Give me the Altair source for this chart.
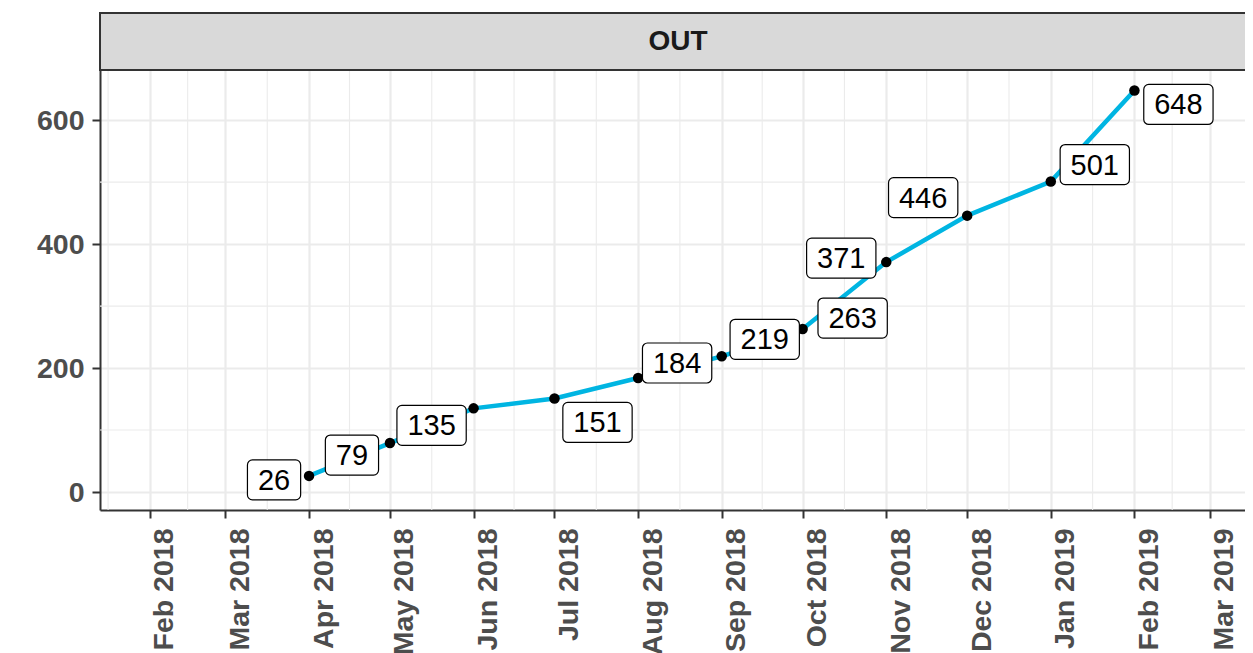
import altair as alt
import pandas as pd

# ---- data ----
dates = ["2018-04-01", "2018-05-01", "2018-06-01", "2018-07-01", "2018-08-01",
         "2018-09-01", "2018-10-01", "2018-11-01", "2018-12-01", "2019-01-01",
         "2019-02-01"]
values = [26, 79, 135, 151, 184, 219, 263, 371, 446, 501, 648]
labels = [str(v) for v in values]
panel_title = "OUT"
y_ticks = [0, 200, 400, 600]
y_minor = [100, 300, 500]

# label placement nudges (pixels), as a repel layout would place them
nudges = [(-35, 4), (-38, 12), (-42, 17), (43, 24), (39, -15), (43, -17),
          (50, -11), (-45, -4), (-44, -18), (44, -17), (44, 14)]

df = pd.DataFrame({"date": dates, "value": values, "label": labels})

# tick months and minor (mid-month) grid positions
tick_months = pd.date_range("2018-02-01", "2019-03-01", freq="MS")
all_months = pd.date_range("2018-01-01", "2019-04-01", freq="MS")
mids = all_months[:-1] + (all_months[1:] - all_months[:-1]) / 2
dom_lo = pd.Timestamp("2018-01-13T12:00")
dom_hi = pd.Timestamp("2019-03-14T00:00")
mids = [m for m in mids if dom_lo <= m <= dom_hi]
minor_x_df = pd.DataFrame({"date": [m.strftime("%Y-%m-%dT%H:%M:%SZ") for m in mids]})
minor_y_df = pd.DataFrame({"value": y_minor})

FONT = "Liberation Sans"
W, H = 1145, 440
GRID = "#EBEBEB"
DARK = "#333333"
AXIS_FS = 28.5
LABEL_FS = 29

xscale = alt.Scale(type="utc",
                   domain=[alt.DateTime(year=2018, month=1, date=13, hours=12, utc=True),
                           alt.DateTime(year=2019, month=3, date=14, utc=True)],
                   nice=False)
yscale = alt.Scale(domain=[-29, 681], nice=False, zero=False)

xaxis = alt.Axis(
    values=[alt.DateTime(year=int(t.year), month=int(t.month), date=1, utc=True) for t in tick_months],
    labelExpr="utcFormat(datum.value, '%b %Y')",
    labelAngle=270, labelAlign="right", labelBaseline="top",
    labelPadding=10, labelFont=FONT, labelFontSize=AXIS_FS, labelFontWeight="bold",
    labelColor="#4D4D4D", labelOverlap=False, labelFlush=False, labelBound=False,
    tickSize=8, tickWidth=2, tickColor=DARK,
    domain=True, domainColor=DARK, domainWidth=2,
    grid=True, gridColor=GRID, gridWidth=2.2, title=None)
yaxis = alt.Axis(
    values=y_ticks, labelPadding=8, labelFont=FONT, labelFontSize=AXIS_FS,
    labelFontWeight="bold", labelColor="#4D4D4D",
    tickSize=8, tickWidth=2, tickColor=DARK,
    domain=True, domainColor=DARK, domainWidth=2,
    grid=True, gridColor=GRID, gridWidth=2.2, title=None)

x_enc = alt.X("date:T", scale=xscale, axis=xaxis)
y_enc = alt.Y("value:Q", scale=yscale, axis=yaxis)

minor_x = alt.Chart(minor_x_df).mark_rule(color=GRID, strokeWidth=1.1).encode(x=x_enc)
minor_y = alt.Chart(minor_y_df).mark_rule(color=GRID, strokeWidth=1.1).encode(y=y_enc)

base = alt.Chart(df)
line = base.mark_line(color="#00B5E2", strokeWidth=4.5).encode(x=x_enc, y=y_enc)
pts = base.mark_circle(color="black", size=110, opacity=1).encode(x=x_enc, y=y_enc)

label_layers = []
for lab, (dx, dy) in zip(labels, nudges):
    w = 16.1 * len(lab) + 21
    h = 40
    box = base.transform_filter(alt.datum.label == lab).mark_rect(
        fill="white", stroke="black", strokeWidth=1.2, cornerRadius=5,
        xOffset=dx - w / 2, x2Offset=dx + w / 2,
        yOffset=dy - h / 2, y2Offset=dy + h / 2,
    ).encode(x=x_enc, x2=alt.X2("date"), y=y_enc, y2=alt.Y2("value"))
    txt = base.transform_filter(alt.datum.label == lab).mark_text(
        font=FONT, fontSize=LABEL_FS, color="black", align="center", baseline="middle",
        dx=dx, dy=dy + 1,
    ).encode(x=x_enc, y=y_enc, text="label:N")
    label_layers += [box, txt]

strip_data = alt.Data(values=[{"strip": panel_title}])
strip = alt.Chart(strip_data).mark_rect(fill="#D9D9D9", stroke=DARK, strokeWidth=2).encode(
    x=alt.value(0), x2=alt.value(W + 20), y=alt.value(-57), y2=alt.value(0))
strip_txt = alt.Chart(strip_data).mark_text(
    font=FONT, fontSize=28, fontWeight="bold", color="#1A1A1A",
    align="center", baseline="middle").encode(
    x=alt.value(578), y=alt.value(-28), text="strip:N")

chart = alt.layer(minor_x, minor_y, line, pts, *label_layers, strip, strip_txt).properties(
    width=W, height=H,
    autosize=alt.AutoSizeParams(type="none"),
    padding={"left": 92, "top": 62, "right": 0, "bottom": 143},
    background="white",
).configure_view(stroke=None)

chart.save("out.html", embed_options={"renderer": "svg", "actions": False})
